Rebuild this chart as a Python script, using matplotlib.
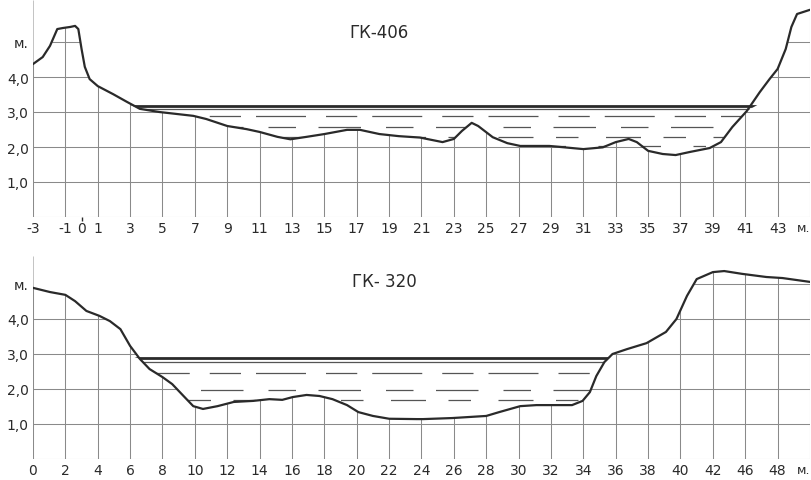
import numpy as np
import matplotlib.pyplot as plt
from matplotlib.path import Path
from matplotlib.patches import PathPatch

# ГК-406 profile (m along section, m height)
top_x = [-3, -2.4, -1.95, -1.5, -1.15, -0.7, -0.4, -0.2, 0.0, 0.2, 0.5, 1.0, 1.95, 2.8, 3.6,
         4.8, 6.9, 7.7, 9.0, 10.2, 11.0, 12.1, 12.9, 13.9, 15.0, 16.4, 17.2, 18.4, 19.6,
         20.9, 22.3, 23.0, 23.5, 24.1, 24.5, 25.4, 26.3, 27.1, 28.9, 31.0, 32.2, 33.0, 33.8,
         34.3, 35.0, 35.9, 36.7, 37.6, 38.8, 39.5, 40.2, 41.1, 41.9, 42.5, 43.0, 43.5, 43.85,
         44.2, 45.0]
top_y = [4.37, 4.57, 4.89, 5.37, 5.40, 5.43, 5.46, 5.37, 4.80, 4.29, 3.94, 3.74, 3.51, 3.29, 3.09,
         3.00, 2.89, 2.80, 2.60, 2.51, 2.43, 2.29, 2.22, 2.29, 2.37, 2.49, 2.49, 2.37, 2.31,
         2.27, 2.14, 2.23, 2.46, 2.69, 2.60, 2.28, 2.11, 2.03, 2.03, 1.94, 1.99, 2.14, 2.23,
         2.14, 1.89, 1.80, 1.77, 1.86, 1.97, 2.14, 2.57, 3.03, 3.57, 3.94, 4.23, 4.80, 5.43,
         5.80, 5.92]
top_water = 3.18
top_water_lines = [3.09, 2.89, 2.57, 2.29, 2.03]

# ГК-320 profile
bot_x = [0, 1.05, 2.0, 2.6, 3.3, 4.1, 4.75, 5.4, 6.0, 6.6, 7.2, 8.0, 8.6, 9.3, 9.9, 10.5,
         11.4, 12.4, 13.6, 14.6, 15.4, 16.05, 16.9, 17.7, 18.5, 19.4, 20.1, 21.0, 22.0, 23.7,
         24.1, 25.9, 28.0, 28.8, 30.1, 31.1, 33.3, 33.95, 34.4, 34.8, 35.3, 35.8, 36.7, 37.9,
         39.1, 39.75, 40.4, 41.0, 42.0, 42.7, 43.8, 45.3, 46.3, 48.0]
bot_y = [4.89, 4.77, 4.69, 4.51, 4.23, 4.09, 3.94, 3.71, 3.23, 2.86, 2.57, 2.34, 2.14, 1.80, 1.51, 1.43,
         1.51, 1.63, 1.66, 1.71, 1.69, 1.77, 1.83, 1.80, 1.71, 1.54, 1.34, 1.23, 1.15, 1.14,
         1.14, 1.17, 1.23, 1.34, 1.51, 1.54, 1.54, 1.66, 1.91, 2.37, 2.77, 3.00, 3.14, 3.31,
         3.63, 4.00, 4.66, 5.14, 5.34, 5.37, 5.29, 5.20, 5.17, 5.06]
bot_water = 2.90
bot_water_lines = [2.76, 2.46, 1.97, 1.69]

top_ticks = [-3, -1, 0, 1] + list(range(3, 46, 2))
top_labels = ['-3', '-1', '0', '1'] + [str(v) for v in range(3, 44, 2)] + ['м.']
top_grid_x = [-3] + list(range(-1, 46, 2))
bot_ticks = list(range(0, 49, 2))
bot_labels = [str(v) for v in range(0, 43, 2)] + ['46', '48', 'м.']
y_ticks = [1, 2, 3, 4, 5]
y_labels = ['1,0', '2,0', '3,0', '4,0', 'м.']

ink = '#2a2a2a'
dash_styles = [(0, (30, 10, 45, 14)), (8, (40, 16, 25, 12)), (0, (22, 18, 34, 20)),
               (12, (18, 22, 28, 18)), (4, (10, 24, 16, 26))]


def draw_profile(ax, x, y, water, wlines, grid_x, xlim, ymax, title, title_xy):
    x = np.array(x)
    y = np.array(y)
    ax.vlines(grid_x, 0, ymax, color='#8a8a8a', lw=0.75, zorder=1)
    ax.hlines([0, 1, 2, 3, 4, 5], xlim[0], xlim[1], color='#8a8a8a', lw=0.75, zorder=1)
    ax.fill_between(x, y, ymax + 1, color='white', zorder=2, lw=0)
    ax.plot(x, y, color=ink, lw=1.6, zorder=5, solid_capstyle='round')

    # water body used as clip area
    lvl = water + 0.06
    low = np.minimum(y, lvl)
    verts = list(zip(x, low)) + [(x[-1], lvl), (x[0], lvl), (x[0], low[0])]
    clip = PathPatch(Path(verts, closed=True), transform=ax.transData,
                     facecolor='none', edgecolor='none')
    ax.add_patch(clip)
    ln, = ax.plot(xlim, [water, water], color=ink, lw=2.0, zorder=4)
    ln.set_clip_path(clip)
    for i, lv in enumerate(wlines):
        ls = '-' if i == 0 else dash_styles[i % len(dash_styles)]
        l, = ax.plot(xlim, [lv, lv], color='#555555', lw=0.9, linestyle=ls, zorder=4)
        l.set_clip_path(clip)

    ax.text(title_xy[0], title_xy[1], title, fontsize=12, color=ink, ha='center', va='center', zorder=6)
    ax.set_xlim(*xlim)
    ax.set_ylim(0, ymax)
    for s in ax.spines.values():
        s.set_visible(False)
    ax.set_yticks(y_ticks)
    ax.set_yticklabels(y_labels)
    ax.tick_params(length=0, labelsize=10, colors=ink, pad=3)


fig = plt.figure(figsize=(8.12, 4.81), dpi=100)
W, H = 812, 481
ax1 = fig.add_axes([33 / W, (H - 218) / H, 777 / W, 6.2 * 35 / H])
ax2 = fig.add_axes([33 / W, (H - 460) / H, 777 / W, 5.8 * 35 / H])

draw_profile(ax1, top_x, top_y, top_water, top_water_lines, top_grid_x, (-3, 45), 6.2,
             'ГК-406', (18.4, 5.29))
ax1.set_xticks(top_ticks)
ax1.set_xticklabels(top_labels)
ax1.vlines(0, -0.12, 0, color=ink, lw=1.0, clip_on=False)

draw_profile(ax2, bot_x, bot_y, bot_water, bot_water_lines, bot_ticks, (0, 48), 5.8,
             'ГК- 320', (21.7, 5.09))
ax2.set_xticks(bot_ticks)
ax2.set_xticklabels(bot_labels)

for ax in (ax1, ax2):
    last = ax.get_xticklabels()[-1]
    last.set_horizontalalignment('right')
    last.set_x(last.get_position()[0])
    last.set_fontsize(9)

fig.savefig('out.png', dpi=100, facecolor='white')
